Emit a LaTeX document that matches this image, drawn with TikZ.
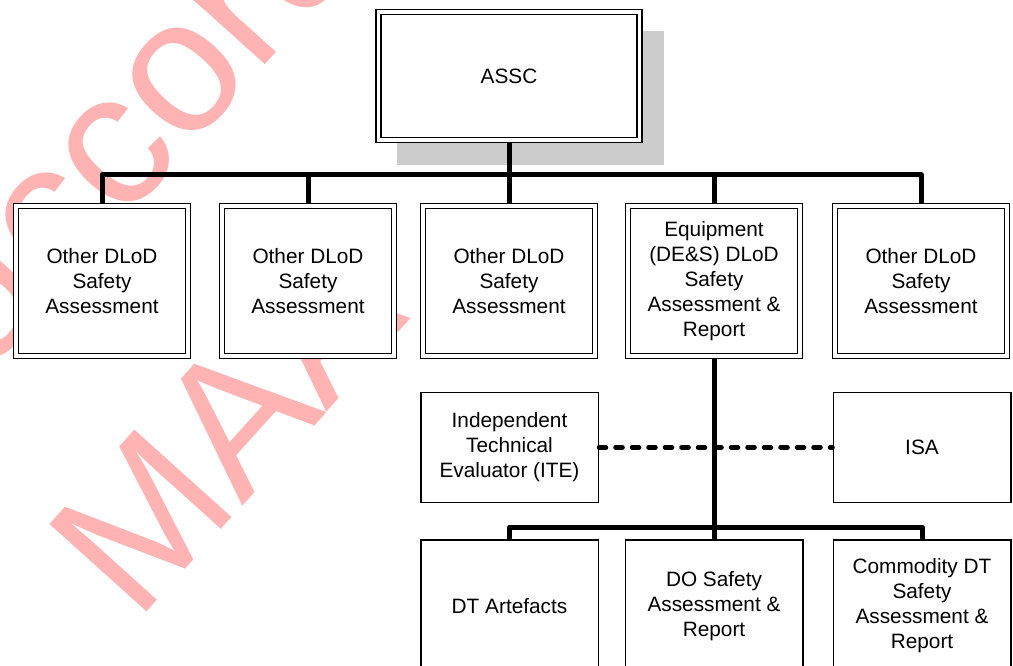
\documentclass[tikz,border=0pt]{standalone}
\usepackage{fontspec}
\setmainfont{Liberation Sans}
\usetikzlibrary{positioning}
\definecolor{wmpink}{HTML}{FFB3B3}
\definecolor{shadowgrey}{HTML}{CCCCCC}

\begin{document}
\begin{tikzpicture}[
    x=1pt, y=-1pt,
    every node/.style={font=\fontsize{20.8}{25}\selectfont, align=center, inner sep=0pt},
    dbox/.style={rectangle, draw=black, double=white, double distance=3.6pt, line width=1.3pt, fill=white, outer sep=3.1pt, minimum width=172pt, minimum height=150pt},
    sbox/.style={rectangle, draw=black, line width=1.5pt, fill=white, outer sep=0.75pt, minimum width=177.5pt, minimum height=110pt},
    conn/.style={line width=5pt, line join=round},
    dotconn/.style={line width=4.5pt, line cap=round, dash pattern=on 7pt off 9.5pt},
    wmark/.style={text=wmpink, font=\fontsize{190}{228}\selectfont, anchor=base west, rotate=48}
]
    \useasboundingbox (0,0) rectangle (1013,666);
    \clip (0,0) rectangle (1013,666);

    % Watermark behind everything
    \node[wmark] (wmtop) at (-11.7,372.6) {accord};
    \node[wmark] (wmlow) at (136,624) {MAA};

    % Shadow of the top box
    \fill[shadowgrey] (397,31) rectangle (664,165);

    % Top box
    \node[dbox, minimum width=261pt, minimum height=128pt] (assc) at (509,76) {ASSC};

    % DLoD row
    \node[dbox] (dlodA) at (102,281) {Other DLoD\\Safety\\Assessment};
    \node[dbox] (dlodB) at (308,281) {Other DLoD\\Safety\\Assessment};
    \node[dbox] (dlodC) at (509,281) {Other DLoD\\Safety\\Assessment};
    \node[dbox] (equip) at (714,281) {Equipment\\(DE\&S) DLoD\\Safety\\Assessment \&\\Report};
    \node[dbox] (dlodE) at (921,281) {Other DLoD\\Safety\\Assessment};

    % Evaluators
    \node[sbox] (ite) at (509.5,447.5) {Independent\\Technical\\Evaluator (ITE)};
    \node[sbox] (isa) at (922,447.5) {ISA};

    % Bottom row (runs off the page)
    \node[sbox, minimum height=132pt] (dtart) at (509.5,606) {DT Artefacts};
    \node[sbox, minimum height=132pt] (dosafe) at (714,606) {DO Safety\\Assessment \&\\Report};
    \node[sbox, minimum height=132pt] (commdt) at (922,606) {Commodity DT\\Safety\\Assessment \&\\Report};

    % Connectors
    \coordinate (topbus) at (509,175);
    \draw[conn] (dlodA.north) |- (topbus) -| (dlodE.north);
    \draw[conn] (assc.south) -- (dlodC.north);
    \draw[conn] (dlodB.north) -- (dlodB.north |- topbus);
    \draw[conn] (equip.north) -- (equip.north |- topbus);
    \draw[conn] (equip.south) -- (dosafe.north);
    \coordinate (lowbus) at (714,527);
    \draw[conn] (dtart.north) |- (lowbus) -| (commdt.north);
    \draw[dotconn] (ite.east) -- (isa.west);
\end{tikzpicture}
\end{document}
